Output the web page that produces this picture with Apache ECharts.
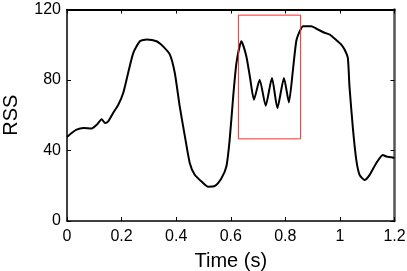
<!DOCTYPE html>
<html><head><meta charset="utf-8">
<script src="https://cdn.jsdelivr.net/npm/echarts@6/dist/echarts.min.js"></script>
<style>html,body{margin:0;padding:0;background:#fff}#c{width:407px;height:271px}</style>
</head><body><div id="c"></div>
<script>
const timeS = [0,0.017,0.035,0.060,0.090,0.109,0.127,0.139,0.151,0.169,0.188,0.206,0.224,0.243,0.267,0.292,0.328,0.352,0.377,0.395,0.413,0.432,0.450,0.468,0.493,0.517,0.542,0.566,0.584,0.596,0.609,0.621,0.639,0.657,0.670,0.685,0.706,0.728,0.751,0.771,0.795,0.813,0.828,0.840,0.853,0.865,0.895,0.920,0.944,0.962,0.987,1.005,1.017,1.029,1.035,1.048,1.060,1.072,1.090,1.109,1.133,1.157,1.170,1.188,1.2];
const rss = [47.6,49.9,51.8,52.7,52.5,54.6,57.8,55.6,56.5,61.3,66,72.6,84,95.4,102,103,102,99.1,94.4,84,65,48,32.8,26.2,22.4,19.5,19.9,24.3,30.9,46,70.7,89.7,102,93.5,82,68.8,80.2,65.4,81.2,64.1,81.2,67.3,85.9,102,107.7,110.5,110.5,108.6,106.8,105.8,102.6,100.1,97.3,92.5,76.4,51.8,34.7,26.2,23.3,26.2,32.8,37.5,36.6,36.2,35.7];
const boxX = [0.628, 0.856];
const boxY = [46.6, 116.8];
const xTicks = [0, 1.2, 0.2];
const yTicks = [0, 120, 40];

const chart = echarts.init(document.getElementById('c'));
const font = 'Liberation Sans, Arial, Helvetica, sans-serif';
const fmtX = v => String(Math.round(v*10)/10);
const boxPts = [[boxX[0],boxY[0]],[boxX[1],boxY[0]],[boxX[1],boxY[1]],[boxX[0],boxY[1]],[boxX[0],boxY[0]]];
chart.setOption({
  animation: false,
  grid: {left: 67, right: 12.5, top: 9.5, bottom: 50, containLabel: false, outerBoundsMode: 'none'},
  xAxis: [{
    type: 'value', min: xTicks[0], max: xTicks[1], interval: xTicks[2],
    name: 'Time (s)', nameLocation: 'middle', nameGap: 30,
    nameTextStyle: {fontFamily: font, fontSize: 20, color: '#000'},
    axisLine: {onZero: false, lineStyle: {color: '#000', width: 1.5}},
    axisTick: {inside: true, length: 4, lineStyle: {color: '#000'}},
    axisLabel: {fontFamily: font, fontSize: 16, color: '#000', margin: 8, formatter: fmtX},
    splitLine: {show: false}
  }, {
    type: 'value', position: 'top', min: xTicks[0], max: xTicks[1], interval: xTicks[2],
    axisLine: {show: true, onZero: false, lineStyle: {color: '#000', width: 2}},
    axisTick: {show: true, inside: true, length: 4, lineStyle: {color: '#000'}},
    axisLabel: {show: false}, splitLine: {show: false}
  }],
  yAxis: [{
    type: 'value', min: yTicks[0], max: yTicks[1], interval: yTicks[2],
    name: 'RSS', nameLocation: 'middle', nameGap: 46, nameRotate: 90,
    nameTextStyle: {fontFamily: font, fontSize: 20, color: '#000'},
    axisLine: {show: true, onZero: false, lineStyle: {color: '#000', width: 1.5}},
    axisTick: {show: true, inside: true, length: 4, lineStyle: {color: '#000'}},
    axisLabel: {fontFamily: font, fontSize: 16, color: '#000', margin: 6},
    splitLine: {show: false}
  }, {
    type: 'value', position: 'right', min: yTicks[0], max: yTicks[1], interval: yTicks[2],
    axisLine: {show: true, onZero: false, lineStyle: {color: '#555', width: 2.5}},
    axisTick: {show: true, inside: true, length: 4, lineStyle: {color: '#000'}},
    axisLabel: {show: false}, splitLine: {show: false}
  }],
  series: [{
    type: 'line', xAxisIndex: 0, yAxisIndex: 0,
    data: timeS.map((t, i) => [t, rss[i]]),
    showSymbol: false, symbol: 'none', smooth: 0.2,
    lineStyle: {color: '#000', width: 2}
  }, {
    type: 'line', xAxisIndex: 1, yAxisIndex: 1,
    data: boxPts, showSymbol: false, symbol: 'none', silent: true,
    lineStyle: {color: '#ff2a2a', width: 1}
  }]
});
</script></body></html>
